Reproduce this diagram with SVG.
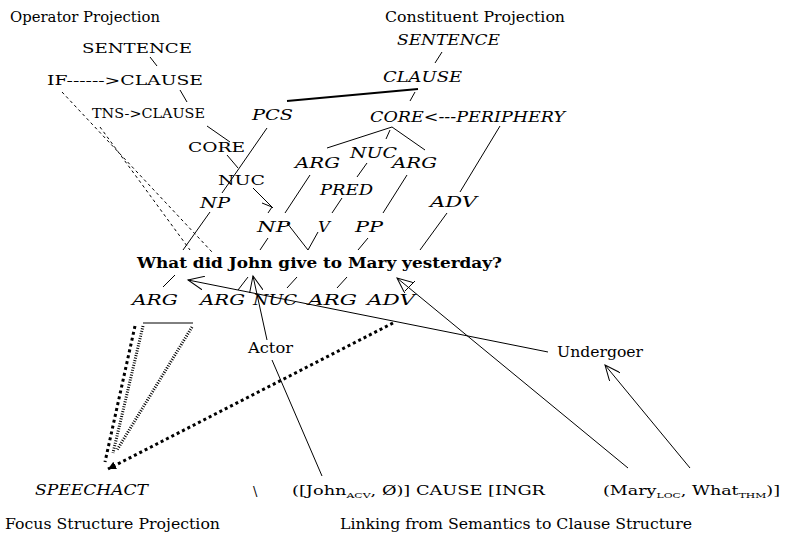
<svg xmlns="http://www.w3.org/2000/svg" width="789" height="541" viewBox="0 0 789 541" font-family="'DejaVu Serif', 'Liberation Serif', serif">
<style>
text{font-family:"DejaVu Serif","Liberation Serif",serif;fill:#000}
.title{font-size:15px}
.lab{font-size:14px;font-style:italic}
.op{font-size:13px}
.sent{font-size:15px;font-weight:bold}
.sem{font-size:13px}
.sub{font-size:8px}
line,polyline{stroke:#000;stroke-width:1;fill:none}
.thick{stroke-width:2}
.dash{stroke-dasharray:3 3}
.fdot{stroke-width:3;stroke-dasharray:3 3}
.rung{stroke-width:3;stroke-dasharray:1 1.5}
.arr{marker-end:url(#ah)}
</style>
<defs>
<marker id="ah" markerUnits="userSpaceOnUse" markerWidth="18" markerHeight="14" refX="16" refY="7" orient="auto">
<path d="M0,0 L16,7 L0,14" fill="none" stroke="#000" stroke-width="1"/>
</marker>
<marker id="ahf" markerUnits="userSpaceOnUse" markerWidth="10" markerHeight="10" refX="8" refY="5" orient="auto">
<path d="M0,1 L8,5 L0,9 Z" fill="#000"/>
</marker>
</defs>

<g id="titles">
<text class="title" x="10" y="22" textLength="150" lengthAdjust="spacingAndGlyphs">Operator Projection</text>
<text class="title" x="385" y="22" textLength="180" lengthAdjust="spacingAndGlyphs">Constituent Projection</text>
<text class="title" x="5" y="529" textLength="215" lengthAdjust="spacingAndGlyphs">Focus Structure Projection</text>
<text class="title" x="340" y="529" textLength="352" lengthAdjust="spacingAndGlyphs">Linking from Semantics to Clause Structure</text>
</g>

<g id="operator">
<g id="op-sentence"><text class="op" x="82" y="53" textLength="110" lengthAdjust="spacingAndGlyphs">SENTENCE</text></g>
<g id="op-if-clause"><text class="op" x="47" y="85" textLength="156" lengthAdjust="spacingAndGlyphs">IF------&gt;CLAUSE</text></g>
<g id="op-tns-clause"><text class="op" x="92" y="118" textLength="113" lengthAdjust="spacingAndGlyphs">TNS-&gt;CLAUSE</text></g>
<g id="op-core"><text class="op" x="188" y="152" textLength="57" lengthAdjust="spacingAndGlyphs">CORE</text></g>
<g id="op-nuc"><text class="op" x="218" y="185" textLength="47" lengthAdjust="spacingAndGlyphs">NUC</text></g>
</g>

<g id="constituent">
<g id="c-sentence"><text class="lab" x="397" y="45" textLength="103" lengthAdjust="spacingAndGlyphs">SENTENCE</text></g>
<g id="c-clause"><text class="lab" x="383" y="82" textLength="79" lengthAdjust="spacingAndGlyphs">CLAUSE</text></g>
<g id="c-pcs"><text class="lab" x="252" y="120" textLength="41" lengthAdjust="spacingAndGlyphs">PCS</text></g>
<g id="c-core-periphery"><text class="lab" x="370" y="122" textLength="195" lengthAdjust="spacingAndGlyphs">CORE&lt;---PERIPHERY</text></g>
<g id="c-arg1"><text class="lab" x="295" y="168" textLength="45" lengthAdjust="spacingAndGlyphs">ARG</text></g>
<g id="c-nuc"><text class="lab" x="350" y="158" textLength="47" lengthAdjust="spacingAndGlyphs">NUC</text></g>
<g id="c-arg2"><text class="lab" x="392" y="168" textLength="45" lengthAdjust="spacingAndGlyphs">ARG</text></g>
<g id="c-pred"><text class="lab" x="320" y="195" textLength="53" lengthAdjust="spacingAndGlyphs">PRED</text></g>
<g id="c-adv"><text class="lab" x="430" y="207" textLength="47" lengthAdjust="spacingAndGlyphs">ADV</text></g>
<g id="c-np1"><text class="lab" x="200" y="208" textLength="30" lengthAdjust="spacingAndGlyphs">NP</text></g>
<g id="c-np2"><text class="lab" x="257" y="232" textLength="33" lengthAdjust="spacingAndGlyphs">NP</text></g>
<g id="c-v"><text class="lab" x="318" y="232" textLength="12" lengthAdjust="spacingAndGlyphs">V</text></g>
<g id="c-pp"><text class="lab" x="355" y="232" textLength="28" lengthAdjust="spacingAndGlyphs">PP</text></g>
</g>

<g id="sentence"><text class="sent" x="137" y="268" textLength="365" lengthAdjust="spacingAndGlyphs">What did John give to Mary yesterday?</text></g>

<g id="focus-linking">
<g id="f-arg1"><text class="lab" x="132" y="305" textLength="46" lengthAdjust="spacingAndGlyphs">ARG</text></g>
<g id="f-arg2"><text class="lab" x="200" y="305" textLength="45" lengthAdjust="spacingAndGlyphs">ARG</text></g>
<g id="f-nuc"><text class="lab" x="253" y="305" textLength="44" lengthAdjust="spacingAndGlyphs">NUC</text></g>
<g id="f-arg3"><text class="lab" x="308" y="305" textLength="49" lengthAdjust="spacingAndGlyphs">ARG</text></g>
<g id="f-adv"><text class="lab" x="367" y="305" textLength="48" lengthAdjust="spacingAndGlyphs">ADV</text></g>
<g id="actor"><text class="title" x="248" y="353" textLength="45" lengthAdjust="spacingAndGlyphs">Actor</text></g>
<g id="undergoer"><text class="title" x="557" y="357" textLength="86" lengthAdjust="spacingAndGlyphs">Undergoer</text></g>
<g id="speechact"><text class="lab" x="35" y="495" textLength="113" lengthAdjust="spacingAndGlyphs">SPEECHACT</text></g>
<g id="sem1"><text class="sem" x="253" y="496">\</text></g>
<g id="sem2"><text class="sem" x="292" y="495" textLength="253" lengthAdjust="spacingAndGlyphs">([John<tspan class="sub" dy="3">ACV</tspan><tspan dy="-3">, Ø)] CAUSE [INGR</tspan></text></g>
<g id="sem3"><text class="sem" x="603" y="495" textLength="177" lengthAdjust="spacingAndGlyphs">(Mary<tspan class="sub" dy="3">LOC</tspan><tspan dy="-3">, What</tspan><tspan class="sub" dy="3">THM</tspan><tspan dy="-3">)]</tspan></text></g>
</g>

<g id="connectors">
<line x1="150" y1="57" x2="157" y2="66"/>
<line x1="180" y1="90" x2="187" y2="102"/>
<line x1="207" y1="126" x2="230" y2="142"/>
<line x1="227" y1="155" x2="238" y2="168"/>
<line x1="253" y1="188" x2="273" y2="208"/>
<polyline points="262,203 272,207 268,213"/>
<line x1="287" y1="223" x2="308" y2="250"/>
<line class="dash" x1="62" y1="92" x2="212" y2="252"/>
<line class="dash" x1="100" y1="127" x2="190" y2="250"/>
<line x1="442" y1="52" x2="435" y2="63"/>
<polyline class="thick" points="287,101 418,89"/>
<line x1="415" y1="92" x2="410" y2="101"/>
<line x1="267" y1="128" x2="222" y2="193"/>
<line x1="210" y1="212" x2="183" y2="250"/>
<line x1="392" y1="127" x2="327" y2="148"/>
<line x1="392" y1="127" x2="425" y2="150"/>
<line x1="390" y1="130" x2="386" y2="139"/>
<line x1="310" y1="175" x2="285" y2="213"/>
<line x1="367" y1="163" x2="357" y2="177"/>
<line x1="342" y1="198" x2="332" y2="213"/>
<line x1="407" y1="175" x2="383" y2="213"/>
<line x1="500" y1="126" x2="460" y2="192"/>
<line x1="447" y1="213" x2="420" y2="250"/>
<line x1="268" y1="238" x2="260" y2="250"/>
<line x1="318" y1="232" x2="308" y2="250"/>
<line x1="368" y1="238" x2="358" y2="250"/>
<line x1="175" y1="275" x2="163" y2="287"/>
<line x1="238" y1="290" x2="248" y2="277"/>
<line x1="297" y1="277" x2="287" y2="288"/>
<line x1="347" y1="277" x2="337" y2="288"/>
<line x1="405" y1="291" x2="415" y2="281"/>
<line class="arr" x1="548" y1="352" x2="188" y2="280"/>
<line class="arr" x1="267" y1="340" x2="253" y2="276"/>
<line x1="272" y1="360" x2="322" y2="476"/>
<line class="arr" x1="628" y1="468" x2="397" y2="278"/>
<line class="arr" x1="690" y1="468" x2="605" y2="365"/>
<line x1="143" y1="323" x2="193" y2="323"/>
<line class="fdot" x1="135" y1="326" x2="105" y2="462"/>
<line class="rung" x1="143" y1="326" x2="113" y2="453"/>
<line class="rung" x1="192" y1="327" x2="117" y2="450"/>
<line class="fdot" x1="393" y1="323" x2="108" y2="469" marker-end="url(#ahf)"/>
</g>
</svg>
